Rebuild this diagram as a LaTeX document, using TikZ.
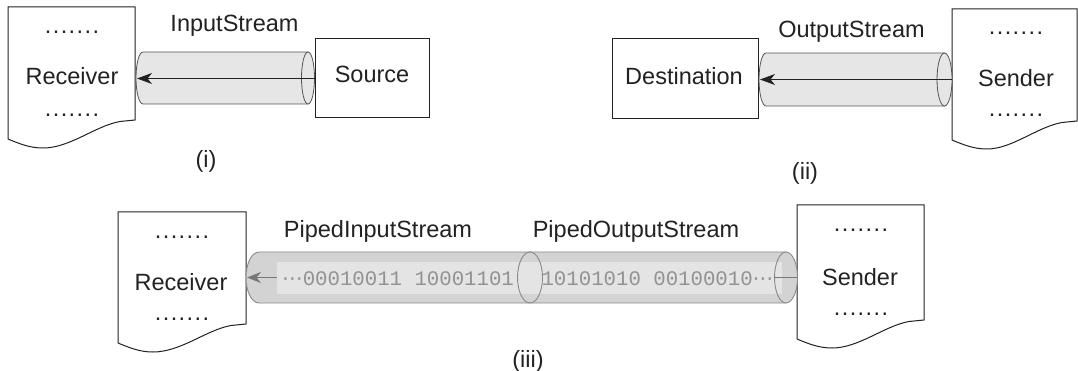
\documentclass[tikz,border=0pt]{standalone}
\usepackage{fontspec}
\setmainfont{Liberation Sans}
\newfontfamily\bitsfont{Liberation Mono}
\newfontfamily\dvfont{DejaVu Sans}
\newfontfamily\dotfont[LetterSpace=6]{Liberation Sans}
\usetikzlibrary{arrows.meta,calc}
\definecolor{inkc}{HTML}{222222}
\definecolor{tubefill}{HTML}{E6E6E6}
\definecolor{tubeline}{HTML}{555555}
\definecolor{pipefill}{HTML}{D3D3D3}
\definecolor{bandfill}{HTML}{E4E4E4}
\definecolor{pipeline}{HTML}{8A8A8A}
\definecolor{bitcol}{HTML}{929292}
\definecolor{pipearrow}{HTML}{777777}
\newcommand\mydoc[5]{% name, left, top, W, H
  \begin{scope}[shift={(#2,#3)}]
    \path[docline] (0,0) -- ({#4},0) -- ({#4},{#5-19}) -- ({#4-15},{#5-17.5})
      .. controls ({#4-40},{#5-13}) and ({#4-65},{#5+9}) .. (35,{#5+9})
      .. controls (22,{#5+9}) and (12,{#5+5}) .. (0,{#5}) -- cycle;
  \end{scope}
  \node[docnode, minimum width=#4pt, minimum height=#5pt, anchor=north west] (#1) at (#2,#3) {};
}
\begin{document}
\begin{tikzpicture}[x=1pt,y=-1pt,
  lbl/.style={font=\fontsize{23.5}{28}\selectfont, inner sep=0pt, anchor=base, text=inkc},
  dotlbl/.style={font=\dotfont\fontsize{23.5}{28}\selectfont, inner sep=0pt, anchor=base, text=inkc},
  boxst/.style={draw=inkc, line width=1pt, fill=white, inner sep=0pt},
  docline/.style={draw=inkc, line width=1pt, fill=white},
  docnode/.style={inner sep=0pt, outer sep=0pt},
  tube/.style={draw=tubeline, line width=0.8pt, fill=tubefill},
  pipe/.style={draw=pipeline, line width=0.9pt, fill=pipefill},
  arr/.style={draw=inkc, line width=1pt, -{Stealth[length=15pt,width=11pt,inset=4.5pt]}},
  parr/.style={draw=pipearrow, line width=1.2pt, -{Stealth[length=14pt,width=11pt,inset=4.5pt]}},
  bits/.style={font=\bitsfont\fontsize{20.7}{24}\selectfont, text=bitcol, inner sep=0pt, anchor=base}
]
\useasboundingbox (0,0) rectangle (1078,371);

% ---------------- (i) ----------------
\mydoc{recv1}{8}{7}{127}{132}
\node[dotlbl] (recv1a) at (72,34) {.......};
\node[lbl] (recv1t) at (72,85) {Receiver};
\node[dotlbl] (recv1b) at (72,117) {.......};
\node[boxst, minimum width=114pt, minimum height=79pt] (src) at (372,78.5) {};
\node[lbl] (srct) at (372,83) {Source};
\path[tube] (143,52) -- (308,52) -- (308,104) -- (143,104)
  .. controls (139.1,104) and (136,92.4) .. (136,78)
  .. controls (136,63.6) and (139.1,52) .. (143,52) -- cycle;
\path[tube] (308,78) ellipse [x radius=6.5, y radius=26];
\coordinate (c1L) at (137,78.5);
\draw[arr] (src.west) -- (c1L);
\node[lbl] (lab1) at (234.5,32) {InputStream};
\node[lbl] (cap1) at (206,168) {(i)};

% ---------------- (ii) ----------------
\node[boxst, minimum width=146pt, minimum height=80pt] (dest) at (685,79) {};
\node[lbl] (destt) at (684,85) {Destination};
\mydoc{send2}{952}{9}{125}{131}
\node[dotlbl] (send2a) at (1016,35) {.......};
\node[lbl] (send2t) at (1016,87) {Sender};
\node[dotlbl] (send2b) at (1016,117) {.......};
\path[tube] (766,53) -- (944.5,53) -- (944.5,106) -- (766,106)
  .. controls (762.1,106) and (759,94.1) .. (759,79.5)
  .. controls (759,64.9) and (762.1,53) .. (766,53) -- cycle;
\path[tube] (944.5,79.5) ellipse [x radius=7.5, y radius=26.5];
\coordinate (c2L) at (760,79.5);
\draw[arr] (send2.west |- c2L) -- (c2L);
\node[lbl] (lab2) at (851.5,38) {OutputStream};
\node[lbl] (cap2) at (805,180) {(ii)};

% ---------------- (iii) ----------------
\mydoc{recv3}{118}{212}{128}{131}
\node[dotlbl] (recv3a) at (182,239) {.......};
\node[lbl] (recv3t) at (181,290) {Receiver};
\node[dotlbl] (recv3b) at (182,320) {.......};
\mydoc{send3}{797}{205}{127}{134}
\node[dotlbl] (send3a) at (861,232) {.......};
\node[lbl] (send3t) at (860,285) {Sender};
\node[dotlbl] (send3b) at (861,315) {.......};

\path[pipe] (259,252) -- (786,252) -- (786,303) -- (259,303)
  .. controls (251.8,303) and (246,291.6) .. (246,277.5)
  .. controls (246,263.4) and (251.8,252) .. (259,252) -- cycle;
\path[fill=pipefill] (786,277.5) ellipse [x radius=11.5, y radius=25.5];
\node[fill=bandfill, inner sep=0pt, minimum width=505pt, minimum height=32pt] (band3) at (529.5,278) {};
\draw[pipeline, line width=0.9pt] (786,277.5) ellipse [x radius=11.5, y radius=25.5];
\draw[pipeline, line width=0.9pt] (530,277.5) ellipse [x radius=12.5, y radius=25.5];

\node[bits] (bitsL) at (398,285) {{\dvfont ⋯}00010011 10001101};
\node[bits] (bitsR) at (657.5,285) {10101010 00100010{\dvfont ⋯}};
\coordinate (c3L) at (247,277.5);
\draw[parr] (band3.west |- c3L) -- (c3L);
\draw[draw=pipearrow, line width=1.2pt] (send3.west |- c3L) -- (bitsR.east |- c3L);

\node[lbl] (lab3a) at (378,237) {PipedInputStream};
\node[lbl] (lab3b) at (636,237) {PipedOutputStream};
\node[lbl] (cap3) at (528,367) {(iii)};
\end{tikzpicture}
\end{document}
